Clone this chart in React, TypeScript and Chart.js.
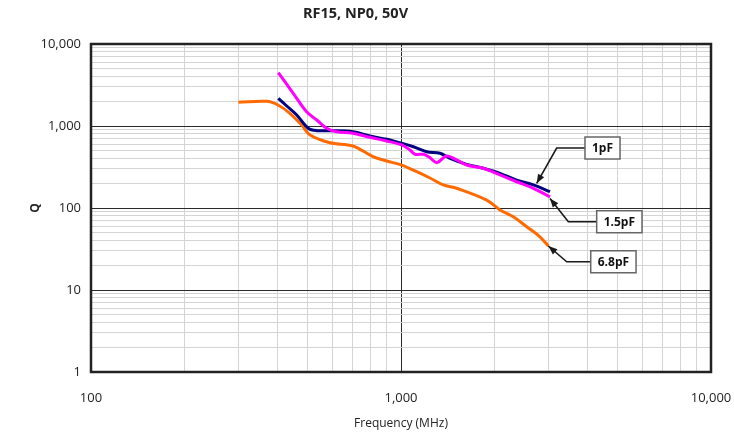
import { useEffect, useRef } from "react";
import { Chart, registerables } from "chart.js";

Chart.register(...registerables);

const chartTitle = "RF15, NP0, 50V";
const xAxisTitle = "Frequency (MHz)";
const yAxisTitle = "Q";

// Series data (frequency in MHz, Q)
const freq1pF = [402, 428, 461, 502, 535, 590, 700, 794, 899, 1005, 1096, 1211, 1336, 1439, 1629, 1843, 2086, 2361, 2672, 3025];
const q1pF = [2177, 1754, 1362, 938, 877, 877, 852, 755, 688, 615, 559, 486, 465, 404, 341, 305, 265, 219, 191, 158];

const freq15pF = [402, 449, 496, 535, 576, 620, 700, 794, 899, 1005, 1069, 1110, 1180, 1240, 1304, 1404, 1513, 1629, 1843, 2086, 2361, 2672, 3025];
const q15pF = [4467, 2506, 1494, 1184, 938, 852, 815, 728, 657, 587, 510, 452, 452, 411, 357, 431, 385, 335, 305, 253, 209, 174, 137];

const freq68pF = [299, 369, 401, 438, 478, 509, 590, 700, 812, 899, 1005, 1124, 1240, 1369, 1513, 1890, 2086, 2303, 2544, 2806, 2988];
const q68pF = [1945, 2000, 1803, 1429, 1028, 776, 625, 570, 423, 374, 334, 277, 232, 191, 174, 125, 94.6, 78.3, 59, 44.6, 34.4];

// Callout labels (anchored in data coordinates)
const calloutTexts = ["1pF", "1.5pF", "6.8pF"];
const calloutTipFreq = [2740, 3024, 2988];
const calloutTipQ = [200, 131, 34.4];
const calloutElbowFreq = [3178, 3466, 3424];
const calloutElbowQ = [539, 68, 22.1];
const calloutBoxFreq = [3922, 4278, 4093];

// Axis ranges / ticks
const xDecades = [100, 1000, 10000];
const yDecades = [1, 10, 100, 1000, 10000];

function logTicks(decades: number[]): number[] {
  const out: number[] = [];
  for (let i = 0; i < decades.length - 1; i++) {
    for (let m = 1; m <= 9; m++) out.push(decades[i] * m);
  }
  out.push(decades[decades.length - 1]);
  return out;
}

const isDecade = (v: number) => Math.abs(Math.log10(v) - Math.round(Math.log10(v))) < 1e-9;

const FONT = "'Open Sans', 'DejaVu Sans', sans-serif";

export default function App() {
  const canvasRef = useRef<HTMLCanvasElement | null>(null);

  useEffect(() => {
    if (!canvasRef.current) return;

    const borderPlugin = {
      id: "plotBorder",
      afterDraw(chart: any) {
        const { ctx, chartArea: a, scales } = chart;
        ctx.save();
        ctx.strokeStyle = "#222";
        ctx.lineWidth = 2.5;
        ctx.strokeRect(a.left, a.top, a.right - a.left, a.bottom - a.top);
        ctx.restore();

        // callouts
        const xs = scales.x;
        const ys = scales.y;
        ctx.save();
        ctx.font = `bold 12px ${FONT}`;
        for (let i = 0; i < calloutTexts.length; i++) {
          const tx = xs.getPixelForValue(calloutTipFreq[i]);
          const ty = ys.getPixelForValue(calloutTipQ[i]);
          const ex = xs.getPixelForValue(calloutElbowFreq[i]);
          const ey = ys.getPixelForValue(calloutElbowQ[i]);
          const bx = xs.getPixelForValue(calloutBoxFreq[i]);
          const tw = ctx.measureText(calloutTexts[i]).width;
          const bw = tw + 14;
          const bh = 22;

          ctx.strokeStyle = "#1a1a1a";
          ctx.lineWidth = 1.6;
          ctx.beginPath();
          ctx.moveTo(bx, ey);
          ctx.lineTo(ex, ey);
          ctx.lineTo(tx, ty);
          ctx.stroke();

          // arrowhead
          const ang = Math.atan2(ty - ey, tx - ex);
          const L = 9;
          const W = 3.5;
          ctx.fillStyle = "#1a1a1a";
          ctx.beginPath();
          ctx.moveTo(tx, ty);
          ctx.lineTo(tx - L * Math.cos(ang) + W * Math.sin(ang), ty - L * Math.sin(ang) - W * Math.cos(ang));
          ctx.lineTo(tx - L * Math.cos(ang) - W * Math.sin(ang), ty - L * Math.sin(ang) + W * Math.cos(ang));
          ctx.closePath();
          ctx.fill();

          // box
          ctx.fillStyle = "#fff";
          ctx.fillRect(bx, ey - bh / 2, bw, bh);
          ctx.strokeStyle = "#666";
          ctx.lineWidth = 1.5;
          ctx.strokeRect(bx, ey - bh / 2, bw, bh);
          ctx.fillStyle = "#111";
          ctx.textAlign = "center";
          ctx.textBaseline = "middle";
          ctx.fillText(calloutTexts[i], bx + bw / 2, ey + 1);
        }
        ctx.restore();
      },
    };

    const mk = (f: number[], q: number[]) => f.map((v, i) => ({ x: v, y: q[i] }));

    const gridColor = (c: any) => (c.tick && isDecade(c.tick.value) ? "#2a2a2a" : "#d4d4d4");

    const chart = new Chart(canvasRef.current, {
      type: "line",
      data: {
        datasets: [
          {
            label: "1.5pF",
            data: mk(freq15pF, q15pF),
            borderColor: "#ff00ff",
            borderWidth: 3,
            pointRadius: 0,
            tension: 0.35,
            fill: false,
          },
          {
            label: "1pF",
            data: mk(freq1pF, q1pF),
            borderColor: "#000080",
            borderWidth: 3,
            pointRadius: 0,
            tension: 0.35,
            fill: false,
          },
          {
            label: "6.8pF",
            data: mk(freq68pF, q68pF),
            borderColor: "#ff6a00",
            borderWidth: 3,
            pointRadius: 0,
            tension: 0.35,
            fill: false,
          },
        ],
      },
      options: {
        animation: false,
        responsive: true,
        maintainAspectRatio: false,
        layout: { padding: { top: 0, left: 0, right: 23, bottom: 0 } },
        plugins: {
          legend: { display: false },
          tooltip: { enabled: false },
          title: {
            display: true,
            text: chartTitle,
            color: "#222",
            font: { family: FONT, size: 14.5, weight: "bold" },
            padding: { top: 5.6, bottom: 21 },
          },
        },
        scales: {
          x: {
            type: "logarithmic",
            min: xDecades[0],
            max: xDecades[xDecades.length - 1],
            afterBuildTicks: (s: any) => {
              s.ticks = logTicks(xDecades).map((v) => ({ value: v }));
            },
            afterFit: (s: any) => {
              s.height = 69;
              s.paddingLeft = 0;
              s.paddingRight = 0;
            },
            border: { display: false },
            grid: { color: gridColor, lineWidth: 1, drawTicks: false },
            ticks: {
              autoSkip: false,
              maxRotation: 0,
              padding: 18,
              color: "#222",
              font: { family: FONT, size: 13 },
              callback: (v: any) => (isDecade(Number(v)) ? Number(v).toLocaleString("en-US") : ""),
            },
            title: {
              display: true,
              text: xAxisTitle,
              color: "#222",
              font: { family: FONT, size: 12 },
              padding: { top: 0, bottom: 10 },
            },
          },
          y: {
            type: "logarithmic",
            min: yDecades[0],
            max: yDecades[yDecades.length - 1],
            afterBuildTicks: (s: any) => {
              s.ticks = logTicks(yDecades).map((v) => ({ value: v }));
            },
            afterFit: (s: any) => {
              s.width = 91;
              s.paddingTop = 0;
              s.paddingBottom = 0;
            },
            border: { display: false },
            grid: { color: gridColor, lineWidth: 1, drawTicks: false },
            ticks: {
              autoSkip: false,
              padding: 10,
              color: "#222",
              font: { family: FONT, size: 13 },
              callback: (v: any) => (isDecade(Number(v)) ? Number(v).toLocaleString("en-US") : ""),
            },
            title: {
              display: true,
              text: yAxisTitle,
              color: "#222",
              font: { family: FONT, size: 12, weight: "bold" },
              padding: { top: 28, bottom: 0 },
            },
          },
        },
      },
      plugins: [borderPlugin],
    } as any);

    return () => chart.destroy();
  }, []);

  return (
    <div style={{ position: "absolute", left: 0, top: 0, width: 734, height: 441, background: "#fff" }}>
      <canvas ref={canvasRef} />
    </div>
  );
}
